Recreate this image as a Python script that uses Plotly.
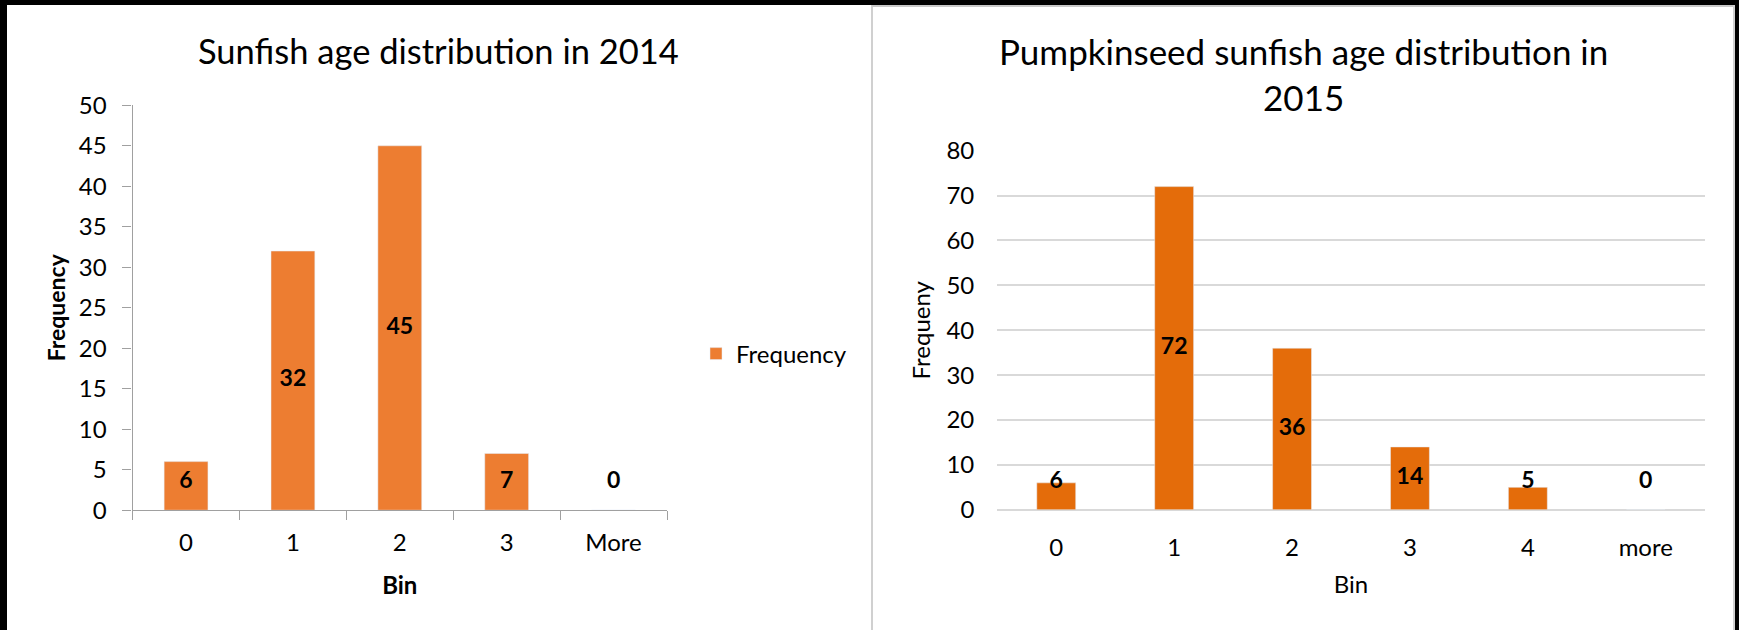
import plotly.graph_objects as go

# ---- data ----
bins_2014 = ["0", "1", "2", "3", "More"]
freq_2014 = [6, 32, 45, 7, 0]

bins_2015 = ["0", "1", "2", "3", "4", "more"]
freq_2015 = [6, 72, 36, 14, 5, 0]

title_2014 = "Sunfish age distribution in 2014"
title_2015 = "Pumpkinseed sunfish age distribution in<br>2015"

W, H = 1739, 630
FONT = "Lato, Carlito, 'Open Sans', sans-serif"
C_LEFT = "#ED7D31"
C_RIGHT = "#E46C0A"

# plot areas in pixels (left, top, right, bottom)
L_BOX = (132.6, 105.3, 667.0, 510.2)
R_BOX = (997.3, 150.7, 1704.7, 509.8)


def dom(box):
    x0, y0, x1, y1 = box
    return [x0 / W, x1 / W], [(H - y1) / H, (H - y0) / H]


lx, ly = dom(L_BOX)
rx, ry = dom(R_BOX)

# label placement: centred in bar, but never lower than ~28px above base
L_MAX, R_MAX = 50, 80
l_floor = 28 / ((L_BOX[3] - L_BOX[1]) / L_MAX)
r_floor = 28 / ((R_BOX[3] - R_BOX[1]) / R_MAX)
lab_y_2014 = [max(v / 2, l_floor) for v in freq_2014]
lab_y_2015 = [max(v / 2, r_floor) for v in freq_2015]

fig = go.Figure()

fig.add_trace(go.Bar(x=bins_2014, y=freq_2014, name="Frequency", marker_color=C_LEFT,
                     width=0.41, xaxis="x", yaxis="y", showlegend=True))
fig.add_trace(go.Scatter(x=bins_2014, y=lab_y_2014, text=[str(v) for v in freq_2014],
                         mode="text", textposition="middle center",
                         textfont=dict(family=FONT, size=23, color="#000000", weight="bold"),
                         xaxis="x", yaxis="y", showlegend=False, hoverinfo="skip"))

fig.add_trace(go.Bar(x=bins_2015, y=freq_2015, name="Frequency", marker_color=C_RIGHT,
                     width=0.33, xaxis="x2", yaxis="y2", showlegend=False))
fig.add_trace(go.Scatter(x=bins_2015, y=lab_y_2015, text=[str(v) for v in freq_2015],
                         mode="text", textposition="middle center",
                         textfont=dict(family=FONT, size=23, color="#000000", weight="bold"),
                         xaxis="x2", yaxis="y2", showlegend=False, hoverinfo="skip"))

tickfont = dict(family=FONT, size=24, color="#000000")
AXC = "#A0A0A0"

fig.update_layout(
    width=W, height=H,
    margin=dict(l=0, r=0, t=0, b=0),
    paper_bgcolor="white", plot_bgcolor="white",
    font=dict(family=FONT, color="#000000"),
    xaxis=dict(domain=lx, anchor="y", type="category", range=[-0.5, 4.5],
               showline=True, linecolor=AXC, linewidth=1.3,
               ticks="outside", tickson="boundaries", ticklen=9, tickcolor=AXC, tickwidth=1.3,
               tickfont=tickfont, ticklabelstandoff=11, showgrid=False, zeroline=False,
               title=dict(text="<b>Bin</b>", font=dict(family=FONT, size=24), standoff=22),
               automargin=False, fixedrange=True),
    yaxis=dict(domain=ly, anchor="x", range=[0, L_MAX], dtick=5,
               showline=True, linecolor=AXC, linewidth=1.3,
               ticks="outside", ticklen=9, tickcolor=AXC, tickwidth=1.3,
               tickfont=tickfont, ticklabelstandoff=11, showgrid=False, zeroline=False,
               title=dict(text="<b>Frequency</b>", font=dict(family=FONT, size=23), standoff=6),
               automargin=False, fixedrange=True),
    xaxis2=dict(domain=rx, anchor="y2", type="category", range=[-0.5, 5.5],
                showline=False, ticks="", tickfont=tickfont, ticklabelstandoff=21,
                showgrid=False, zeroline=False,
                title=dict(text="Bin", font=dict(family=FONT, size=24), standoff=16),
                automargin=False, fixedrange=True),
    yaxis2=dict(domain=ry, anchor="x2", range=[0, R_MAX], dtick=10,
                showline=False, ticks="", tickfont=tickfont, ticklabelstandoff=22,
                showgrid=True, gridcolor="#D9D9D9", gridwidth=1.5,
                zeroline=True, zerolinecolor="#D9D9D9", zerolinewidth=1.5,
                title=dict(text="Frequeny", font=dict(family=FONT, size=24), standoff=9),
                automargin=False, fixedrange=True),
    legend=dict(x=696 / W, y=(H - 354) / H, xanchor="left", yanchor="middle",
                font=dict(family=FONT, size=24, color="#000000"), bgcolor="rgba(0,0,0,0)"),
    annotations=[
        dict(text=title_2014, x=438 / W, y=(H - 50) / H, xref="paper", yref="paper",
             xanchor="center", yanchor="middle", showarrow=False,
             font=dict(family=FONT, size=34.5, color="#000000")),
        dict(text=title_2015, x=1303 / W, y=(H - 74) / H, xref="paper", yref="paper",
             xanchor="center", yanchor="middle", showarrow=False,
             font=dict(family=FONT, size=35, color="#000000")),
    ],
    shapes=[
        # black frame
        dict(type="rect", xref="paper", yref="paper", x0=0, x1=1, y0=(H - 5) / H, y1=1,
             fillcolor="black", line_width=0, layer="above"),
        dict(type="rect", xref="paper", yref="paper", x0=0, x1=7 / W, y0=0, y1=1,
             fillcolor="black", line_width=0, layer="above"),
        dict(type="rect", xref="paper", yref="paper", x0=1735 / W, x1=1, y0=0, y1=1,
             fillcolor="black", line_width=0, layer="above"),
        # grey panel edges
        dict(type="line", xref="paper", yref="paper", x0=872 / W, x1=872 / W, y0=0, y1=(H - 5) / H,
             line=dict(color="#D0D0D0", width=2), layer="above"),
        dict(type="line", xref="paper", yref="paper", x0=872 / W, x1=1734 / W,
             y0=(H - 6) / H, y1=(H - 6) / H, line=dict(color="#C8C8C8", width=2), layer="above"),
        dict(type="line", xref="paper", yref="paper", x0=1734 / W, x1=1734 / W, y0=0, y1=(H - 5) / H,
             line=dict(color="#D0D0D0", width=2), layer="above"),
    ],
)

fig.write_html("out.html")
